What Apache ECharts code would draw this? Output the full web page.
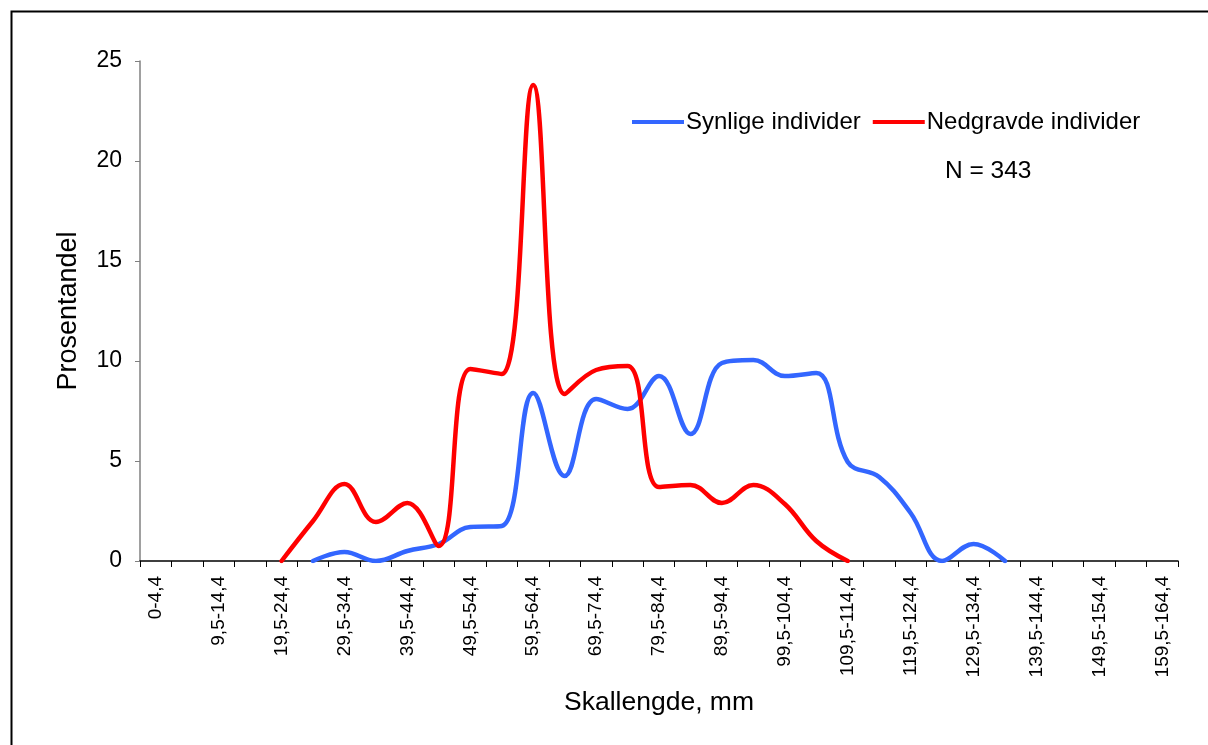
<!DOCTYPE html>
<html>
<head>
<meta charset="utf-8">
<script src="https://cdn.jsdelivr.net/npm/echarts@6/dist/echarts.min.js"></script>
<style>
html,body{margin:0;padding:0;background:#fff;}
#chart{width:1208px;height:745px;}
</style>
</head>
<body>
<div id="chart"></div>
<script>
var categories = ["0-4,4","4,5-9,4","9,5-14,4","14,5-19,4","19,5-24,4","24,5-29,4","29,5-34,4","34,5-39,4","39,5-44,4","44,5-49,4","49,5-54,4","54,5-59,4","59,5-64,4","64,5-69,4","69,5-74,4","74,5-79,4","79,5-84,4","84,5-89,4","89,5-94,4","94,5-99,4","99,5-104,4","104,5-109,4","109,5-114,4","114,5-119,4","119,5-124,4","124,5-129,4","129,5-134,4","134,5-139,4","139,5-144,4","144,5-149,4","149,5-154,4","154,5-159,4","159,5-164,4"];
var synlige = [null,null,null,null,null,0,0.45,0,0.5,0.85,1.7,1.75,8.4,4.25,8.1,7.6,9.25,6.35,9.9,10.05,9.25,9.4,4.95,4.2,2.4,0,0.85,0,null,null,null,null,null];
var nedgravde = [null,null,null,null,0,2.0,3.85,1.95,2.9,0.75,9.6,9.35,23.8,8.35,9.55,9.75,3.7,3.8,2.9,3.8,2.85,1.0,0,null,null,null,null,null,null,null,null,null,null];
var seriesNames = ["Synlige individer","Nedgravde individer"];
var yTicks = [0,5,10,15,20,25];

var chart = echarts.init(document.getElementById('chart'), null, {renderer:'canvas'});
var font = 'Liberation Sans, Arial, sans-serif';
chart.setOption({
  animation:false,
  backgroundColor:'#fff',
  textStyle:{fontFamily:font},
  grid:{left:140,right:30,top:61,bottom:184,containLabel:false},
  legend:{
    left:627, top:105,
    icon:'rect', itemWidth:52, itemHeight:4, itemGap:12,
    textStyle:{fontSize:24,color:'#000',fontFamily:font,padding:[0,0,0,-3]},
    data:seriesNames
  },
  xAxis:{
    type:'category',
    data:categories,
    boundaryGap:true,
    name:'Skallengde, mm',
    nameLocation:'middle',
    nameGap:128,
    nameTextStyle:{fontSize:26.5,color:'#000',fontFamily:font},
    axisLine:{lineStyle:{color:'#000',width:1.5}},
    axisTick:{show:true,interval:0,alignWithLabel:false,length:6,inside:false,lineStyle:{color:'#000'}},
    axisLabel:{interval:1,rotate:90,fontSize:19,color:'#000',margin:15,fontFamily:font},
    splitLine:{show:false}
  },
  yAxis:{
    type:'value',
    min:0,max:25,interval:5,
    name:'Prosentandel',
    nameLocation:'middle',
    nameGap:58,
    nameTextStyle:{fontSize:27,color:'#000',fontFamily:font},
    axisLine:{show:true,lineStyle:{color:'#808080',width:1.5}},
    axisTick:{show:true,length:5,lineStyle:{color:'#808080'}},
    axisLabel:{fontSize:23,color:'#000',margin:18,fontFamily:font},
    splitLine:{show:false}
  },
  series:[
    {name:seriesNames[0],type:'line',data:synlige,smooth:0.4,symbol:'none',connectNulls:false,
     lineStyle:{color:'#3366FF',width:4.5,cap:'round'},itemStyle:{color:'#3366FF'}},
    {name:seriesNames[1],type:'line',data:nedgravde,smooth:0.4,symbol:'none',connectNulls:false,
     lineStyle:{color:'#FF0000',width:4.5,cap:'round'},itemStyle:{color:'#FF0000'}}
  ],
  graphic:[
    {type:'rect',left:9,top:9,shape:{x:0,y:0,width:1300,height:900},style:{fill:null,stroke:'#000',lineWidth:2},silent:true,z:-1},
    {type:'text',left:945,top:159,style:{text:'N = 343',font:'24.5px '+font,fill:'#000'}}
  ]
});
</script>
</body>
</html>
